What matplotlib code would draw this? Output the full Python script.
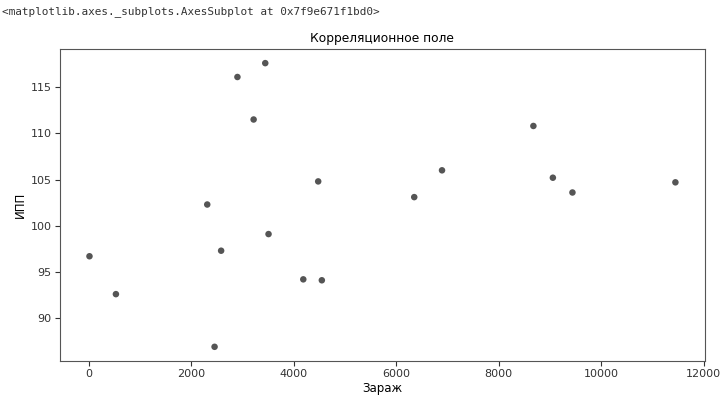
import matplotlib
matplotlib.use("Agg")
import matplotlib.pyplot as plt

# Данные
zarazh = [14, 530, 2312, 2455, 2583, 2901, 3217, 3444, 3508, 4186, 4477, 4548,
          6351, 6893, 8676, 9056, 9438, 11447]
ipp = [96.7, 92.6, 102.3, 86.9, 97.3, 116.1, 111.5, 117.6, 99.1, 94.2, 104.8, 94.1,
       103.1, 106.0, 110.8, 105.2, 103.6, 104.7]

fig = plt.figure(figsize=(7.25, 3.98), dpi=100)
ax = fig.add_axes([0.083, 0.093, 0.889, 0.784])

ax.scatter(zarazh, ipp, s=22, color="#555555", edgecolors="none")

ax.set_title("Корреляционное поле", fontsize=8.8, pad=5)
ax.set_xlabel("Зараж", fontsize=8.5, labelpad=2)
ax.set_ylabel("ИПП", fontsize=8.5, labelpad=3)
ax.tick_params(labelsize=8, colors="#333333", length=3.5, pad=2.5)
for s in ax.spines.values():
    s.set_color("#555555")

# Строка вывода ноутбука над графиком
fig.text(0.003, 0.985, "<matplotlib.axes._subplots.AxesSubplot at 0x7f9e671f1bd0>",
         family="DejaVu Sans Mono", fontsize=7.9, va="top", ha="left", color="#333333")

fig.savefig("out.png", dpi=100)
